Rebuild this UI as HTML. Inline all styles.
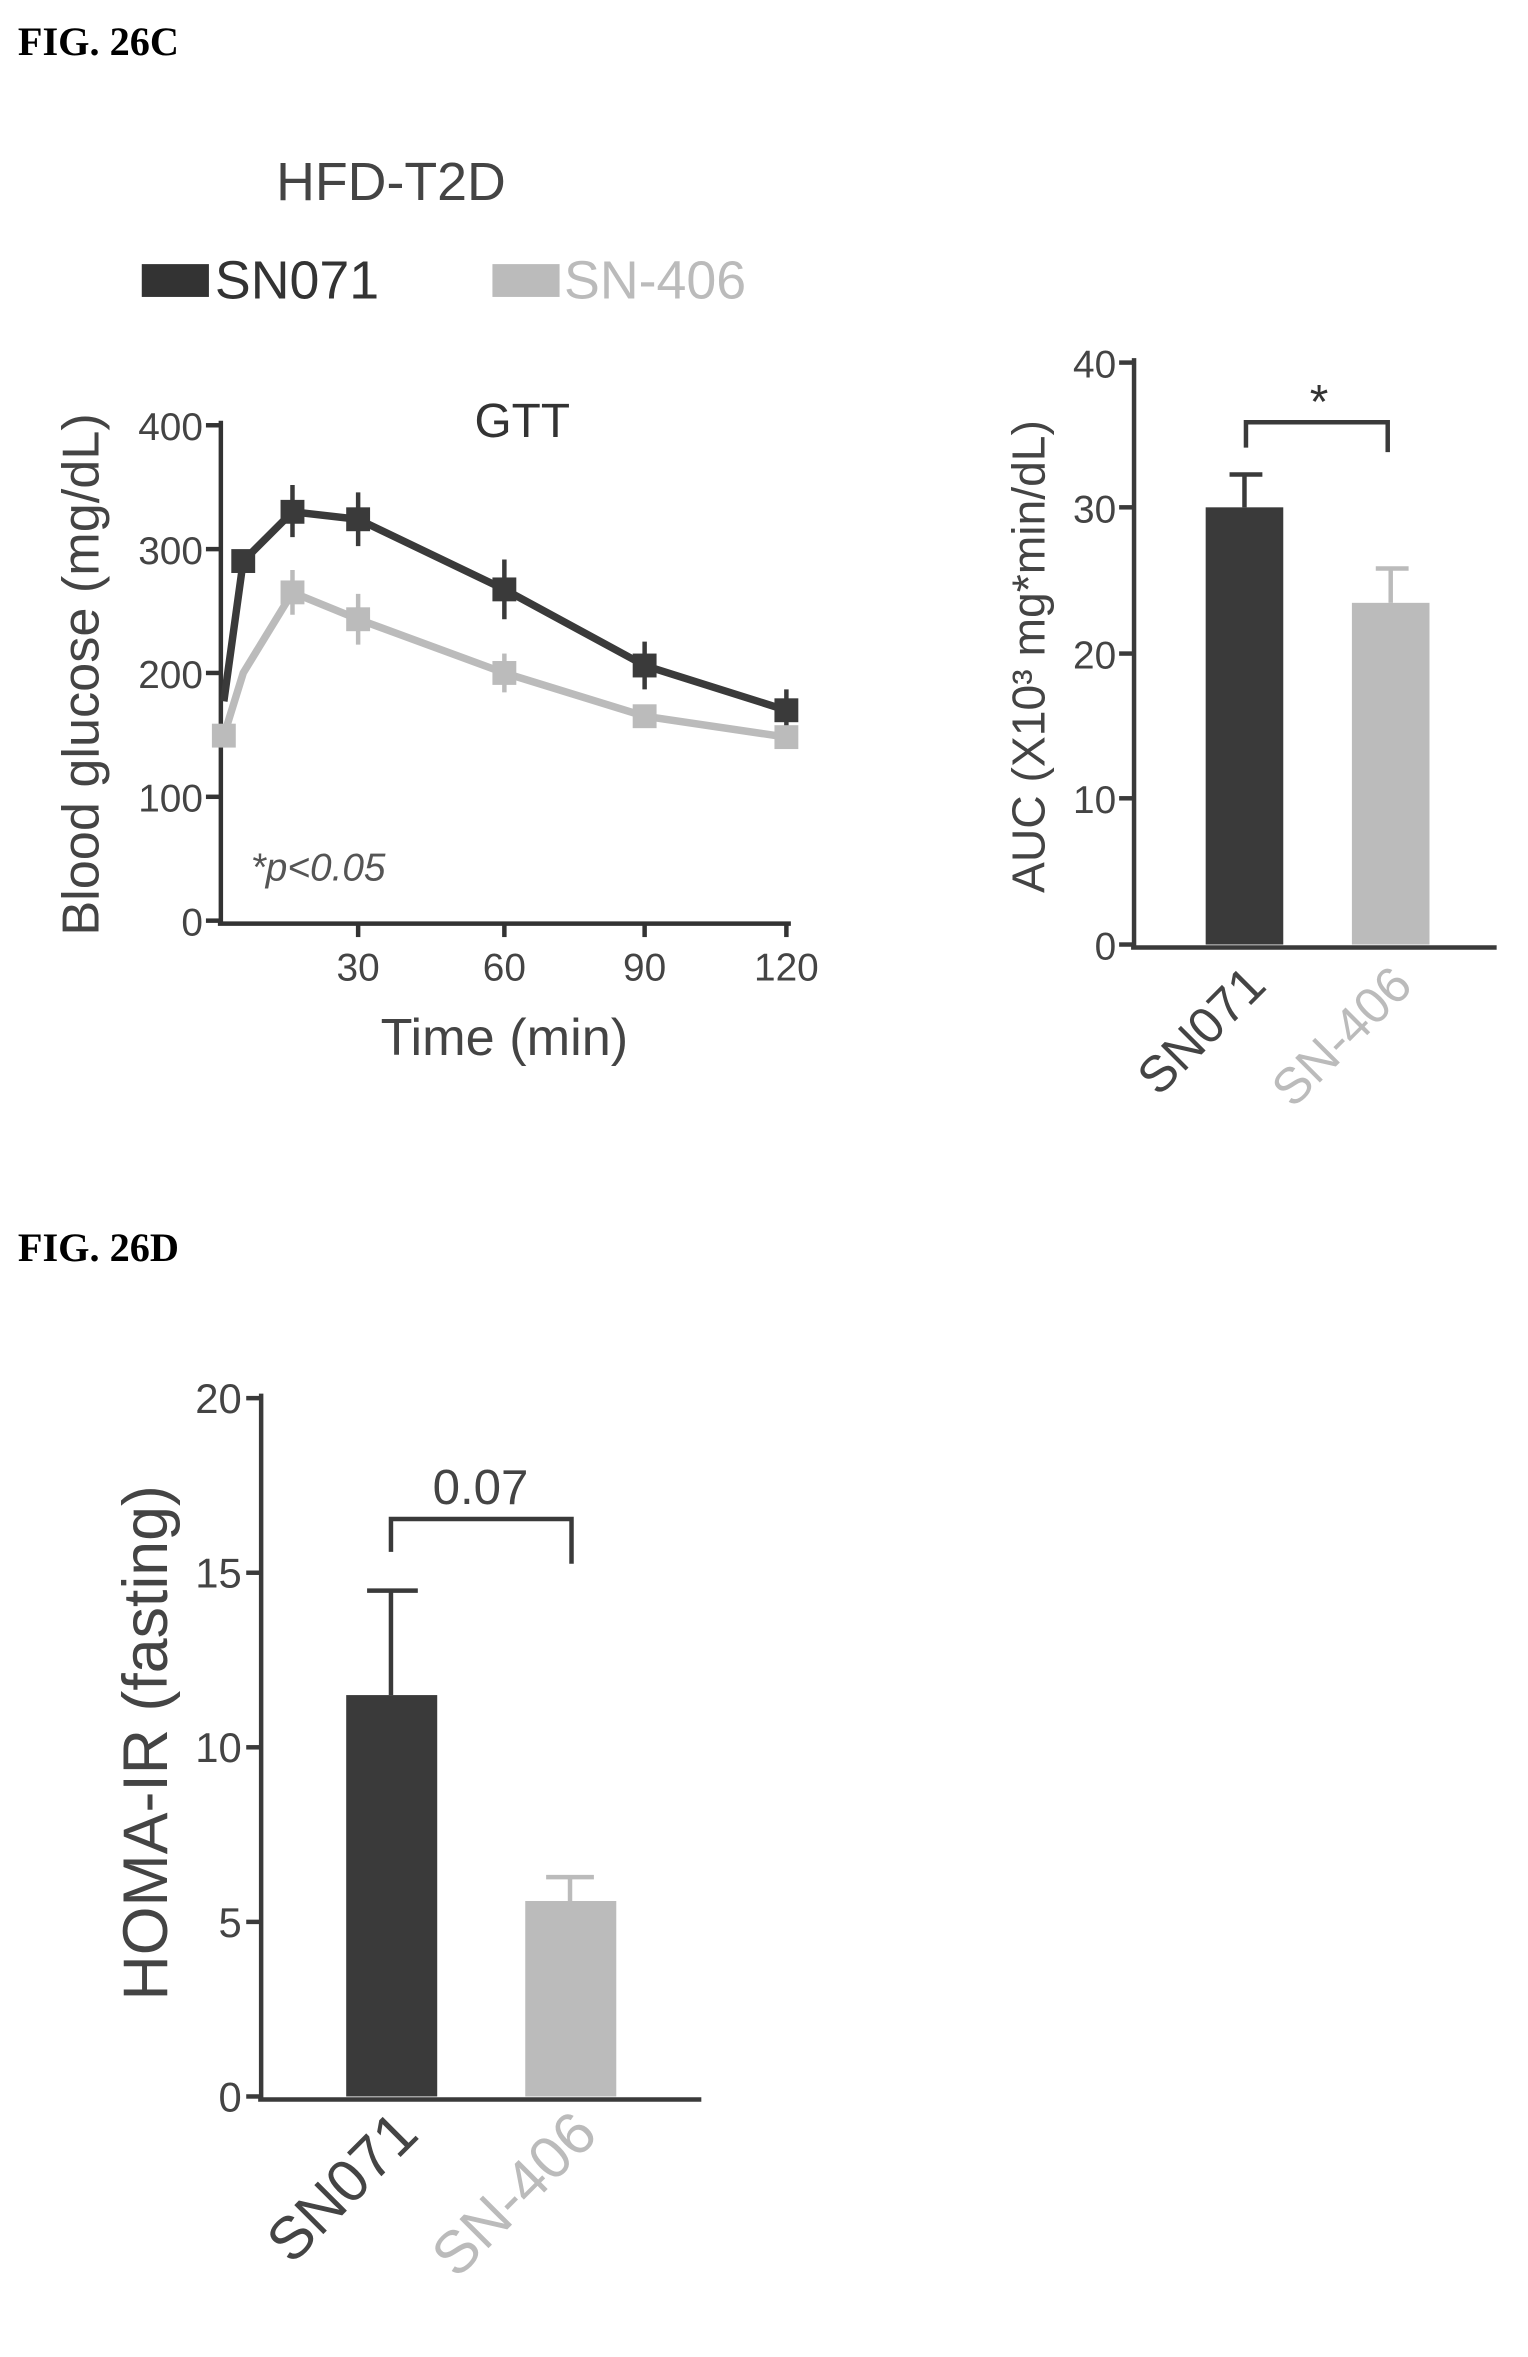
<!DOCTYPE html>
<html><head><meta charset="utf-8"><style>html,body{margin:0;padding:0;background:#fff}svg{display:block}</style></head>
<body>
<svg width="1528" height="2357" viewBox="0 0 1024 1579.6" xmlns="http://www.w3.org/2000/svg" font-family="Liberation Sans, sans-serif">
<text x="12" y="37" font-family="Liberation Serif, serif" font-weight="bold" font-size="27">FIG. 26C</text>
<text x="12" y="845" font-family="Liberation Serif, serif" font-weight="bold" font-size="27">FIG. 26D</text>

<!-- Panel C line chart -->
<text x="262" y="134" font-size="36" text-anchor="middle" fill="#444">HFD-T2D</text>
<rect x="95" y="177" width="45" height="22" fill="#333"/>
<text x="144" y="200" font-size="36" fill="#333">SN071</text>
<rect x="330" y="177" width="45" height="22" fill="#bbb"/>
<text x="378" y="200" font-size="36" fill="#bbb">SN-406</text>
<text x="350" y="293" font-size="32" text-anchor="middle" fill="#333">GTT</text>
<g stroke="#333" stroke-width="3" fill="none">
<line x1="148" y1="282" x2="148" y2="619"/>
<line x1="146" y1="619" x2="530" y2="619"/>
<line x1="138" y1="285" x2="148" y2="285"/><line x1="138" y1="368" x2="148" y2="368"/>
<line x1="138" y1="451" x2="148" y2="451"/><line x1="138" y1="534" x2="148" y2="534"/>
<line x1="138" y1="617" x2="148" y2="617"/>
<line x1="240" y1="619" x2="240" y2="628"/><line x1="338" y1="619" x2="338" y2="628"/>
<line x1="432" y1="619" x2="432" y2="628"/><line x1="527" y1="619" x2="527" y2="628"/>
</g>
<g font-size="26" fill="#444" text-anchor="end">
<text x="136" y="295">400</text><text x="136" y="378">300</text><text x="136" y="461">200</text>
<text x="136" y="544">100</text><text x="136" y="627">0</text></g>
<g font-size="26" fill="#444" text-anchor="middle">
<text x="240" y="657">30</text><text x="338" y="657">60</text><text x="432" y="657">90</text><text x="527" y="657">120</text></g>
<text x="338" y="707" font-size="35" text-anchor="middle" fill="#444">Time (min)</text>
<text transform="translate(66,452) rotate(-90)" font-size="35" text-anchor="middle" fill="#444">Blood glucose (mg/dL)</text>
<text x="168" y="590" font-size="26" font-style="italic" fill="#555">*p&lt;0.05</text>
<polyline points="150,493 163,451 196,397 240,415 338,451 432,480 527,494" fill="none" stroke="#bbb" stroke-width="5"/>
<polyline points="150,470 163,376 196,343 240,348 338,395 432,446 527,476" fill="none" stroke="#3a3a3a" stroke-width="5"/>
<g stroke="#3a3a3a" stroke-width="3">
<line x1="196" y1="325" x2="196" y2="360"/><line x1="240" y1="330" x2="240" y2="366"/>
<line x1="338" y1="375" x2="338" y2="415"/><line x1="432" y1="430" x2="432" y2="462"/>
<line x1="527" y1="462" x2="527" y2="490"/></g>
<g stroke="#bbb" stroke-width="3">
<line x1="196" y1="382" x2="196" y2="412"/><line x1="240" y1="398" x2="240" y2="432"/>
<line x1="338" y1="438" x2="338" y2="464"/></g>
<g fill="#3a3a3a"><rect x="188" y="335" width="16" height="16"/><rect x="232" y="340" width="16" height="16"/><rect x="330" y="387" width="16" height="16"/><rect x="424" y="438" width="16" height="16"/><rect x="519" y="468" width="16" height="16"/><rect x="155" y="368" width="16" height="16"/></g>
<g fill="#bbb"><rect x="188" y="389" width="16" height="16"/><rect x="232" y="407" width="16" height="16"/><rect x="330" y="443" width="16" height="16"/><rect x="424" y="472" width="16" height="16"/><rect x="519" y="486" width="16" height="16"/><rect x="142" y="485" width="16" height="16"/></g>

<!-- Panel C bar chart -->
<rect x="808" y="340" width="52" height="293" fill="#3a3a3a"/>
<rect x="906" y="404" width="52" height="229" fill="#bbb"/>
<g stroke="#3a3a3a" stroke-width="3" fill="none">
<line x1="834" y1="318" x2="834" y2="340"/><line x1="824" y1="318" x2="846" y2="318"/>
<line x1="760" y1="240" x2="760" y2="635"/><line x1="758" y1="635" x2="1003" y2="635"/>
<line x1="750" y1="243" x2="760" y2="243"/><line x1="750" y1="340" x2="760" y2="340"/>
<line x1="750" y1="438" x2="760" y2="438"/><line x1="750" y1="535" x2="760" y2="535"/><line x1="750" y1="633" x2="760" y2="633"/>
<polyline points="835,300 835,283 930,283 930,303"/>
</g>
<g stroke="#bbb" stroke-width="3"><line x1="932" y1="381" x2="932" y2="404"/><line x1="922" y1="381" x2="944" y2="381"/></g>
<text x="884" y="280" font-size="32" text-anchor="middle" fill="#333">*</text>
<g font-size="26" fill="#444" text-anchor="end">
<text x="748" y="253">40</text><text x="748" y="350">30</text><text x="748" y="448">20</text><text x="748" y="545">10</text><text x="748" y="643">0</text></g>
<text transform="translate(700,440) rotate(-90)" font-size="31" text-anchor="middle" fill="#444">AUC (X10³ mg*min/dL)</text>
<text transform="translate(850,662) rotate(-45)" font-size="34" text-anchor="end" fill="#444">SN071</text>
<text transform="translate(948,662) rotate(-45)" font-size="34" text-anchor="end" fill="#bbb">SN-406</text>

<!-- Panel D -->
<rect x="232" y="1136" width="61" height="269" fill="#3a3a3a"/>
<rect x="352" y="1274" width="61" height="131" fill="#bbb"/>
<g stroke="#3a3a3a" stroke-width="3" fill="none">
<line x1="262" y1="1066" x2="262" y2="1136"/><line x1="246" y1="1066" x2="280" y2="1066"/>
<line x1="175" y1="934" x2="175" y2="1407"/><line x1="173" y1="1407" x2="470" y2="1407"/>
<line x1="165" y1="937" x2="175" y2="937"/><line x1="165" y1="1054" x2="175" y2="1054"/>
<line x1="165" y1="1171" x2="175" y2="1171"/><line x1="165" y1="1288" x2="175" y2="1288"/><line x1="165" y1="1405" x2="175" y2="1405"/>
<polyline points="262,1040 262,1018 383,1018 383,1048"/>
</g>
<g stroke="#bbb" stroke-width="3"><line x1="382" y1="1258" x2="382" y2="1274"/><line x1="366" y1="1258" x2="398" y2="1258"/></g>
<text x="322" y="1008" font-size="33" text-anchor="middle" fill="#444">0.07</text>
<g font-size="28" fill="#444" text-anchor="end">
<text x="162" y="947">20</text><text x="162" y="1064">15</text><text x="162" y="1181">10</text><text x="162" y="1298">5</text><text x="162" y="1415">0</text></g>
<text transform="translate(112,1168) rotate(-90)" font-size="42" text-anchor="middle" fill="#444">HOMA-IR (fasting)</text>
<text transform="translate(282,1432) rotate(-45)" font-size="40" text-anchor="end" fill="#444">SN071</text>
<text transform="translate(402,1432) rotate(-45)" font-size="40" text-anchor="end" fill="#bbb">SN-406</text>
</svg>
</body></html>
